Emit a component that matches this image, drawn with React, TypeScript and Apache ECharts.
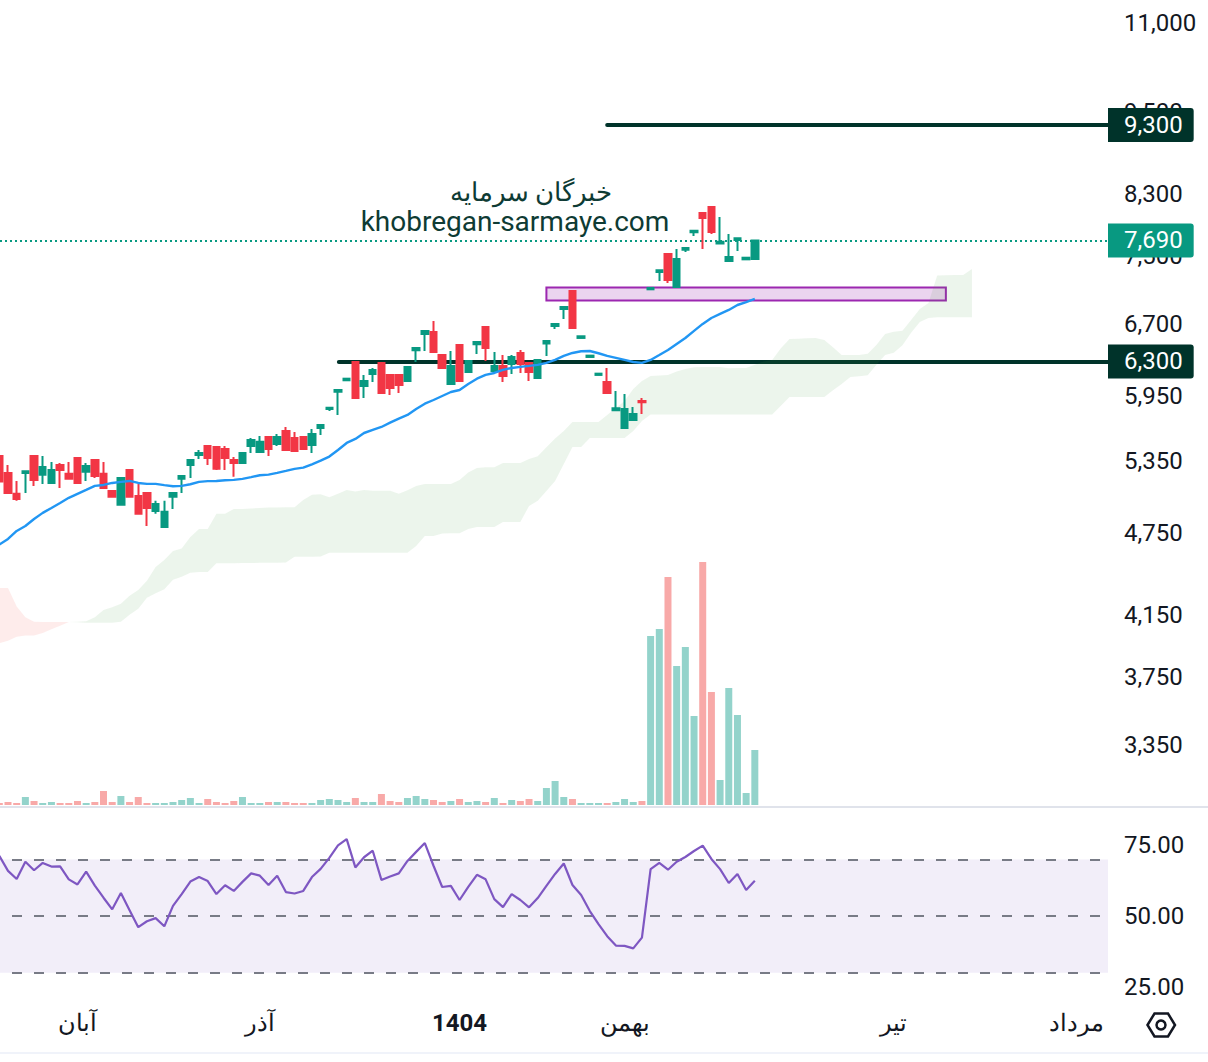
import React, { useEffect, useRef } from "react";
import * as echarts from "echarts";

// [open, close, low, high]
const ohlc = [
  [5393,5170,5170,5393],[5244,5074,5074,5313],[5066,5024,5008,5175],[5244,5259,5074,5264],[5393,5184,5133,5393],
  [5227,5295,5150,5393],[5158,5270,5158,5340],[5313,5270,5116,5331],[5236,5193,5193,5340],[5375,5158,5158,5375],
  [5253,5304,5175,5331],[5357,5218,5201,5357],[5236,5116,5116,5340],[5091,5041,5033,5091],[4975,5201,4975,5201],
  [5270,5041,5041,5270],[5049,4902,4902,5150],[5074,4950,4805,5074],[4926,4983,4902,5008],[4797,4918,4797,5008],
  [5041,5074,4942,5074],[5193,5218,5074,5218],[5313,5357,5201,5357],[5401,5419,5366,5446],[5482,5375,5313,5491],
  [5473,5279,5270,5473],[5455,5375,5270,5482],[5357,5331,5210,5384],[5331,5419,5331,5419],[5482,5537,5419,5555],
  [5428,5519,5428,5573],[5564,5455,5393,5573],[5500,5564,5482,5592],[5619,5446,5437,5656],[5555,5437,5437,5610],
  [5564,5455,5446,5564],[5491,5592,5419,5638],[5647,5675,5582,5675],[5826,5839,5807,5839],[5994,6011,5769,6011],
  [6108,6124,6108,6124],[6295,5932,5932,6295],[6051,6101,5932,6162],[6172,6213,6091,6233],[6285,5982,5982,6285],
  [6162,6031,5962,6162],[6162,6061,5982,6162],[6101,6244,6101,6244],[6418,6442,6295,6442],[6592,6625,6410,6625],
  [6614,6400,6400,6735],[6368,6233,6233,6368],[6071,6254,6071,6410],[6474,6101,6101,6474],[6192,6306,6192,6306],
  [6481,6506,6379,6506],[6669,6442,6306,6669],[6203,6254,6203,6400],[6254,6152,6091,6368],[6275,6347,6172,6368],
  [6389,6275,6182,6421],[6285,6192,6101,6285],[6131,6316,6131,6316],[6488,6517,6358,6517],[6680,6702,6647,6702],
  [6869,6891,6757,6891],[7075,6658,6658,7075],[6549,6567,6549,6567],[6347,6361,6347,6361],[6162,6175,6162,6175],
  [6091,5982,5982,6233],[5814,5833,5814,6001],[5647,5826,5647,5972],[5722,5779,5722,5845],[5903,5891,5779,5932],
  [7095,7111,7095,7111],[7301,7321,7193,7321],[7520,7205,7170,7520],[7122,7458,7122,7582],[7574,7595,7545,7595],
  [7793,7814,7746,7814],[8045,7979,7582,8045],[8125,7797,7771,8125],[7652,7673,7652,7992],[7433,7483,7433,7771],
  [7695,7717,7557,7717],[7454,7474,7454,7474],[7458,7690,7458,7690],
];

const volumes = [
  2,3,2,8,4,2,3,2,2,4,2,3,14,3,9,3,8,2,2,2,3,5,7,2,6,3,2,4,8,2,2,3,3,3,2,2,2,5,6,5,3,7,3,3,11,4,3,7,9,6,
  5,3,4,6,3,4,3,7,2,5,4,6,4,17,24,8,6,2,2,2,2,3,6,3,4,169,176,228,139,158,89,243,113,25,117,90,12,55,
];

const movingAverage = [
  4660,4704,4766,4805,4861,4910,4950,4991,5033,5066,5099,5133,5141,5158,5167,5175,5158,5150,5150,5139,
  5130,5133,5147,5167,5173,5175,5181,5184,5193,5207,5224,5229,5244,5261,5279,5290,5319,5351,5387,5446,
  5509,5546,5600,5628,5656,5696,5735,5769,5826,5877,5913,5952,5991,6011,6071,6124,6162,6182,6213,6233,
  6244,6254,6265,6285,6316,6358,6389,6407,6410,6386,6358,6337,6316,6295,6285,6316,6368,6421,6485,6549,
  6625,6702,6768,6813,6858,6914,6948,6983,
];

const rsiValues = [
  71.3,66,63.1,69.2,66.2,68.8,67.5,67.6,63,61.2,65.7,60.8,56.5,52.4,58.2,52.1,46.1,48.2,49.3,46.4,
  53.6,57.8,62.2,63.8,62.4,57.8,60.9,58.9,62.1,65.1,64.3,61,64.3,58.5,58,58.9,63.8,66.7,70.6,75,
  77.2,67.2,70.8,73.1,62.8,64,65.1,69.5,72.7,75.8,67.8,60.3,60.7,55.7,60.3,64.6,63,56,53.2,57.8,
  55.7,53.1,56.4,60.7,64.9,68.6,61,57.5,51.8,47.2,42.9,39.6,39.5,38.6,42.4,66.6,68.8,66.4,69.2,70.9,
  73,74.9,70.2,66.6,61.7,64.9,59.2,62.5,
];

const spanA = [
  3961,3977,4004,4012,4012,4028,4053,4077,4102,4104,4108,4135,4185,4204,4227,4283,4325,4390,4492,4544,
  4612,4630,4719,4782,4782,4902,4902,4942,4942,4946,4950,4953,4954,4956,4956,5016,5058,5063,5038,5066,
  5099,5085,5099,5093,5093,5093,5068,5097,5133,5150,5150,5150,5150,5184,5247,5287,5293,5293,5331,5331,
  5331,5366,5390,5470,5549,5619,5703,5703,5703,5703,5769,5836,5903,6021,6101,6152,6155,6162,6196,6223,
  6241,6242,6243,6244,6231,6232,6233,6265,6299,6316,6439,6538,6541,6545,6549,6527,6449,6368,6368,6368,
  6382,6474,6592,6617,6628,6746,6869,6937,7257,7261,7265,7265,7337,
];

const spanB = [
  4339,4339,4208,4135,4104,4103,4103,4102,4102,4101,4097,4097,4097,4097,4104,4151,4192,4269,4302,4330,
  4397,4419,4448,4455,4455,4519,4519,4519,4520,4521,4522,4522,4523,4524,4567,4567,4567,4569,4597,4597,
  4597,4597,4597,4597,4597,4597,4597,4597,4650,4727,4727,4745,4747,4748,4782,4797,4797,4797,4837,4837,
  4837,4966,5008,5091,5175,5322,5473,5473,5555,5555,5555,5555,5555,5619,5712,5774,5774,5774,5774,5774,
  5774,5774,5774,5774,5774,5774,5774,5774,5774,5774,5858,5942,5942,5942,5942,5942,6008,6071,6142,6149,
  6159,6265,6368,6392,6471,6606,6724,6768,6776,6776,6776,6776,6776,
];

const priceTicks = [11000, 9500, 8300, 7500, 6700, 5950, 5350, 4750, 4150, 3750, 3350];
const rsiTicks = [75, 50, 25];
const rsiLevels = [70, 50, 30];
const monthLabels = ["آبان", "آذر", "1404", "بهمن", "تیر", "مرداد"];
const monthPositions = [9, 30, 53, 72, 103, 124];
const supportLevel = { price: 6300, from: 39.1 };
const resistanceLevel = { price: 9300, from: 70 };
const lastPrice = 7690;
const zoneRange = { from: 63, to: 109, top: 7116, bottom: 6966 };

const FONT = "Roboto, 'Noto Sans', sans-serif";
const UP = "#089981";
const DOWN = "#f23645";
const DARK = "#00332a";
const TEXT = "#131722";
const X_MIN = 0.0788;
const X_MAX = 127.67;

function tagLabel(text: string, bg: string) {
  return {
    show: true,
    position: "end",
    distance: 0,
    formatter: text,
    color: "#ffffff",
    fontFamily: FONT,
    fontSize: 24,
    lineHeight: 28,
    backgroundColor: bg,
    padding: [3, 11, 3, 16],
    borderRadius: [0, 3, 3, 0],
  };
}

export default function App() {
  const ref = useRef<HTMLDivElement>(null);
  useEffect(() => {
    const chart = echarts.init(ref.current!, null, { renderer: "svg", width: 1208, height: 1062 });
    const hiddenX = {
      type: "value",
      min: X_MIN,
      max: X_MAX,
      splitLine: { show: false },
      axisTick: { show: false },
      axisLabel: { show: false },
      axisLine: { show: false },
    };
    chart.setOption({
      animation: false,
      backgroundColor: "#ffffff",
      grid: [
        { left: 0, top: 0, width: 1108, height: 807 },
        { left: 0, top: 808, width: 1108, height: 199 },
      ],
      xAxis: [
        { ...hiddenX, gridIndex: 0 },
        {
          ...hiddenX,
          gridIndex: 1,
          axisLabel: {
            show: true,
            customValues: monthPositions,
            margin: 4,
            color: TEXT,
            fontFamily: FONT,
            fontSize: 24,
            hideOverlap: false,
            showMinLabel: true,
            showMaxLabel: true,
            formatter: (v: number) => {
              const t = monthLabels[monthPositions.indexOf(v)];
              return t === "1404" ? `{b|${t}}` : t;
            },
            rich: { b: { fontWeight: "bold", fontFamily: FONT, fontSize: 24, color: TEXT } },
          },
        },
      ],
      yAxis: [
        {
          type: "log",
          gridIndex: 0,
          position: "right",
          min: 3025,
          max: 11425,
          splitLine: { show: false },
          axisLine: { show: false },
          axisTick: { show: false },
          axisLabel: {
            margin: 16,
            color: TEXT,
            fontFamily: FONT,
            fontSize: 24,
            customValues: priceTicks,
            formatter: (v: number) => Math.round(v).toLocaleString("en-US"),
          },
        },
        {
          type: "value",
          gridIndex: 1,
          position: "right",
          min: 17.9,
          max: 88.2,
          splitLine: { show: false },
          axisLine: { show: false },
          axisTick: { show: false },
          axisLabel: {
            margin: 16,
            color: TEXT,
            fontFamily: FONT,
            fontSize: 24,
            customValues: rsiTicks,
            formatter: (v: number) => v.toFixed(2),
          },
        },
        {
          type: "value",
          gridIndex: 0,
          show: false,
          min: -2,
          max: 805,
        },
      ],
      series: [
        {
          type: "custom",
          name: "Cloud",
          xAxisIndex: 0,
          yAxisIndex: 0,
          z: 3,
          silent: true,
          data: [[0, spanA[0]]],
          encode: { x: 0, y: 1 },
          renderItem: (_p: any, api: any) => {
            const n = Math.min(spanA.length, spanB.length);
            const build = (test: (a: number, b: number) => boolean, fill: string) => {
              const upper: number[][] = [];
              const lower: number[][] = [];
              for (let i = 0; i < n; i++) {
                if (test(spanA[i], spanB[i])) {
                  upper.push(api.coord([i, Math.max(spanA[i], spanB[i])]));
                  lower.push(api.coord([i, Math.min(spanA[i], spanB[i])]));
                }
              }
              return {
                type: "polygon",
                shape: { points: upper.concat(lower.reverse()) },
                style: { fill },
              };
            };
            return {
              type: "group",
              children: [
                build((a, b) => a <= b, "rgba(244,67,54,0.1)"),
                build((a, b) => a >= b, "rgba(67,160,71,0.1)"),
              ],
            };
          },
        },
        {
          type: "bar",
          name: "Volume",
          xAxisIndex: 0,
          yAxisIndex: 2,
          barWidth: 7,
          z: 2,
          silent: true,
          data: volumes.map((v, i) => ({
            value: [i, v],
            itemStyle: { color: ohlc[i][1] >= ohlc[i][0] ? "#93d3cb" : "#f8a9a8" },
          })),
        },
        {
          type: "candlestick",
          name: "Price",
          xAxisIndex: 0,
          yAxisIndex: 0,
          barWidth: 7,
          z: 4,
          silent: true,
          itemStyle: { color: UP, color0: DOWN, borderColor: UP, borderColor0: DOWN, borderWidth: 2 },
          data: ohlc.map((c, i) => [i, c[0], c[1], c[2], c[3]]),
        },
        {
          type: "line",
          name: "MA",
          xAxisIndex: 0,
          yAxisIndex: 0,
          showSymbol: false,
          symbol: "none",
          z: 5,
          silent: true,
          lineStyle: { color: "#2196f3", width: 2.4 },
          data: movingAverage.map((v, i) => [i, v]),
          markArea: {
            silent: true,
            z: 3,
            itemStyle: { color: "rgba(156,39,176,0.2)", borderColor: "#9c27b0", borderWidth: 2 },
            label: { show: false },
            data: [[{ coord: [zoneRange.from, zoneRange.top] }, { coord: [zoneRange.to, zoneRange.bottom] }]],
          },
          markLine: {
            silent: true,
            symbol: "none",
            z: 2,
            data: [
              [
                {
                  coord: [resistanceLevel.from, resistanceLevel.price],
                  lineStyle: { color: DARK, width: 4, type: "solid", cap: "round" },
                  label: tagLabel("9,300", DARK),
                },
                { coord: [X_MAX, resistanceLevel.price] },
              ],
              [
                {
                  coord: [supportLevel.from, supportLevel.price],
                  lineStyle: { color: DARK, width: 4, type: "solid", cap: "round" },
                  label: tagLabel("6,300", DARK),
                },
                { coord: [X_MAX, supportLevel.price] },
              ],
              [
                {
                  coord: [X_MIN, lastPrice],
                  lineStyle: { color: UP, width: 2, type: [2, 3] },
                  label: tagLabel("7,690", UP),
                },
                { coord: [X_MAX, lastPrice] },
              ],
            ],
          },
        },
        {
          type: "line",
          name: "RSI",
          xAxisIndex: 1,
          yAxisIndex: 1,
          showSymbol: false,
          symbol: "none",
          z: 5,
          silent: true,
          lineStyle: { color: "#7e57c2", width: 2.2 },
          data: rsiValues.map((v, i) => [i, v]),
          markArea: {
            silent: true,
            z: 1,
            itemStyle: { color: "rgba(126,87,194,0.1)" },
            label: { show: false },
            data: [[{ yAxis: rsiLevels[0] }, { yAxis: rsiLevels[2] }]],
          },
          markLine: {
            silent: true,
            symbol: "none",
            z: 2,
            label: { show: false },
            lineStyle: { color: "#787b86", width: 2, type: [10, 12], dashOffset: 10 },
            data: rsiLevels.map((v) => ({ yAxis: v })),
          },
        },
      ],
      graphic: [
        {
          type: "text",
          x: 531,
          y: 192,
          z: 3,
          silent: true,
          style: {
            text: "خبرگان سرمایه",
            fill: "#0e3b34",
            font: `26px ${FONT}`,
            textAlign: "center",
            textVerticalAlign: "middle",
          },
        },
        {
          type: "text",
          x: 515,
          y: 221,
          z: 3,
          silent: true,
          style: {
            text: "khobregan-sarmaye.com",
            fill: "#0e3b34",
            font: `28px ${FONT}`,
            textAlign: "center",
            textVerticalAlign: "middle",
          },
        },
        {
          type: "polygon",
          silent: true,
          shape: {
            points: [[1147.5, 1025], [1154.5, 1013.5], [1168, 1013.5], [1175, 1025], [1168, 1036.5], [1154.5, 1036.5]],
          },
          style: { fill: "none", stroke: TEXT, lineWidth: 2.5 },
        },
        {
          type: "circle",
          silent: true,
          shape: { cx: 1161, cy: 1025, r: 4.5 },
          style: { fill: "none", stroke: TEXT, lineWidth: 2.5 },
        },
        {
          type: "rect",
          silent: true,
          shape: { x: 0, y: 806, width: 1208, height: 2 },
          style: { fill: "#e0e3eb" },
        },
        {
          type: "rect",
          silent: true,
          shape: { x: 0, y: 1052, width: 1208, height: 2 },
          style: { fill: "#f0f3fa" },
        },
      ],
    });
    return () => chart.dispose();
  }, []);
  return <div ref={ref} style={{ position: "fixed", left: 0, top: 0, width: 1208, height: 1062 }} />;
}
